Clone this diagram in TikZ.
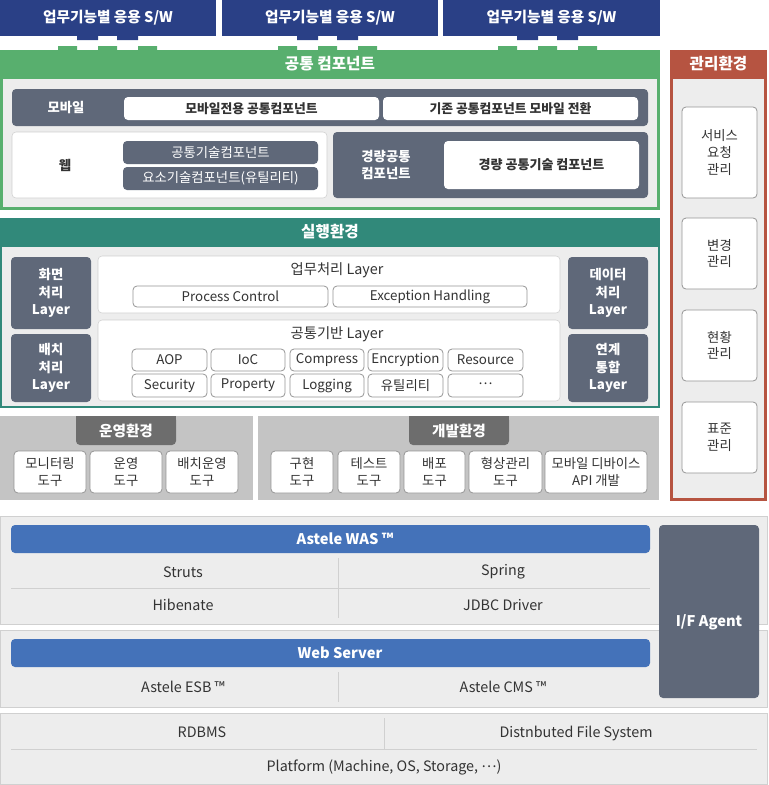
\documentclass[tikz,border=0pt]{standalone}
\usepackage{fontspec}
\setmainfont{Noto Sans CJK KR}
\usepackage{xcolor}

\definecolor{appblue}{RGB}{42,64,134}
\definecolor{compgreen}{RGB}{88,175,110}
\definecolor{runteal}{RGB}{49,137,122}
\definecolor{slate}{RGB}{95,104,121}
\definecolor{panelbg}{RGB}{237,237,237}
\definecolor{toolgray}{RGB}{196,196,196}
\definecolor{tabgray}{RGB}{109,109,109}
\definecolor{mgmtred}{RGB}{182,84,65}
\definecolor{wasblue}{RGB}{68,114,185}
\definecolor{linegray}{RGB}{208,208,208}
\definecolor{boxline}{RGB}{150,150,150}
\definecolor{ink}{RGB}{51,51,51}

\newcommand{\midots}{\raisebox{0.28em}{⋯}}

\tikzset{
  px/.style 2 args={minimum width=#1*0.75pt, minimum height=#2*0.75pt},
  base/.style={inner sep=0pt, outer sep=0pt, align=center, text=ink, font=\fontsize{10}{12.5}\selectfont},
  app/.style={base, fill=appblue, text=white, font=\bfseries\fontsize{11}{13}\selectfont},
  header/.style={base, text=white, font=\bfseries\fontsize{11.75}{14}\selectfont},
  darkbox/.style={base, fill=slate, text=white, rounded corners=3pt, font=\fontsize{10}{12}\selectfont},
  darkbold/.style={darkbox, font=\bfseries\fontsize{10}{13}\selectfont},
  darklabel/.style={base, text=white, font=\bfseries\fontsize{10}{13}\selectfont},
  plainbox/.style={base, fill=white, rounded corners=3pt, font=\bfseries\fontsize{9.6}{12}\selectfont},
  layerbox/.style={base, fill=white, draw=linegray, rounded corners=3pt},
  itembox/.style={base, fill=white, draw=boxline, line width=0.6pt, rounded corners=3pt},
  toolbox/.style={itembox, font=\fontsize{10}{12.5}\selectfont},
  tab/.style={base, fill=tabgray, text=white, rounded corners=3pt, font=\bfseries\fontsize{11}{13}\selectfont},
  stackbox/.style={base, fill=panelbg, draw=linegray},
  bar/.style={base, fill=wasblue, rounded corners=3pt},
  barlabel/.style={base, text=white, font=\bfseries\fontsize{11}{13}\selectfont},
  cell/.style={base, font=\fontsize{10.75}{13}\selectfont}
}

\begin{document}
\begin{tikzpicture}[x=0.75pt, y=-0.75pt]
  \useasboundingbox (0,0) rectangle (768,785);

  % applications
  \node [app, px={216}{36}] (A1) at (108,18) {업무기능별 응용 S/W};
  \node [app, px={216}{36}] (A2) at (330,18) {업무기능별 응용 S/W};
  \node [app, px={217}{36}] (A3) at (551.5,18) {업무기능별 응용 S/W};
  \fill [appblue] (77,36) rectangle (98,40) (117,36) rectangle (138,40);
  \fill [appblue] (297,36) rectangle (318,40) (337,36) rectangle (358,40);
  \fill [appblue] (517,36) rectangle (538,40) (557,36) rectangle (578,40);
  \fill [compgreen] (58,46) rectangle (77,50) (98,46) rectangle (117,50) (138,46) rectangle (157,50);
  \fill [compgreen] (278,46) rectangle (297,50) (318,46) rectangle (337,50) (358,46) rectangle (377,50);
  \fill [compgreen] (498,46) rectangle (517,50) (538,46) rectangle (557,50) (578,46) rectangle (597,50);

  % common components
  \node [base, fill=compgreen, px={660}{160}] (C) at (330,130) {};
  \node [base, fill=panelbg, px={654}{128}] (Cin) at (330,143) {};
  \node [header] (CT) at (330,64) {공통 컴포넌트};
  \node [darkbox, px={636}{37}] (M) at (330,107.5) {};
  \node [darklabel] (ML) at (66,107.5) {모바일};
  \node [plainbox, px={255}{23}] (M1) at (251.5,108.5) {모바일전용 공통컴포넌트};
  \node [plainbox, px={255}{23}] (M2) at (510.5,108.5) {기존 공통컴포넌트 모바일 전환};
  \node [layerbox, px={315}{66}] (W) at (169.5,165) {};
  \node [base, font=\bfseries\fontsize{10}{12}\selectfont] (WL) at (65,165) {웹};
  \node [darkbox, px={195}{23}] (W1) at (220.5,152.5) {공통기술컴포넌트};
  \node [darkbox, px={195}{23}] (W2) at (220.5,178.5) {요소기술컴포넌트(유틸리티)};
  \node [darkbox, px={315}{66}] (L) at (490.5,165) {};
  \node [darklabel] (LL) at (386,165) {경량공통\\컴포넌트};
  \node [plainbox, px={195}{48}, font=\bfseries\fontsize{9.75}{12}\selectfont] (L1) at (541.5,165) {경량 공통기술 컴포넌트};

  % runtime
  \node [base, fill=runteal, px={660}{190}] (R) at (330,313) {};
  \node [base, fill=panelbg, px={656}{159}] (Rin) at (330,326.5) {};
  \node [header] (RT) at (330,232) {실행환경};
  \node [darkbold, px={80}{72}] (R1) at (51,293) {화면\\처리\\Layer};
  \node [darkbold, px={80}{68}] (R2) at (51,368) {배치\\처리\\Layer};
  \node [darkbold, px={80}{72}] (R3) at (608,293) {데이터\\처리\\Layer};
  \node [darkbold, px={80}{68}] (R4) at (608,368) {연계\\통합\\Layer};
  \node [layerbox, px={462}{57}] (BZ) at (329,284.5) {};
  \node [cell] (BZT) at (337,270) {업무처리 Layer};
  \node [itembox, px={195}{21}] (P1) at (230.5,296.5) {Process Control};
  \node [itembox, px={194}{21}] (P2) at (430,296.5) {Exception Handling};
  \node [layerbox, px={462}{81}] (CB) at (329,360.5) {};
  \node [cell] (CBT) at (337,334) {공통기반 Layer};
  \node [itembox, px={75}{22}] (B1) at (169.5,360) {AOP};
  \node [itembox, px={74}{22}] (B2) at (248,360) {IoC};
  \node [itembox, px={74}{22}] (B3) at (327,360) {Compress};
  \node [itembox, px={75}{22}] (B4) at (405.5,360) {Encryption};
  \node [itembox, px={75}{22}] (B5) at (485.5,360) {Resource};
  \node [itembox, px={75}{23}] (B6) at (169.5,385.5) {Security};
  \node [itembox, px={74}{23}] (B7) at (248,385.5) {Property};
  \node [itembox, px={74}{23}] (B8) at (327,385.5) {Logging};
  \node [itembox, px={75}{23}] (B9) at (405.5,385.5) {유틸리티};
  \node [itembox, px={75}{23}] (B10) at (485.5,385.5) {\midots};

  % operation tools
  \node [base, fill=toolgray, px={253}{84}] (O) at (126.5,458) {};
  \fill [tabgray] (76,416) rectangle (176,430);
  \node [tab, px={100}{29}] (OT) at (126,430.5) {운영환경};
  \node [toolbox, px={72}{42}] (O1) at (50,472) {모니터링\\도구};
  \node [toolbox, px={72}{42}] (O2) at (126,472) {운영\\도구};
  \node [toolbox, px={72}{42}] (O3) at (202,472) {배치운영\\도구};

  % development tools
  \node [base, fill=toolgray, px={401}{84}] (D) at (458.5,458) {};
  \fill [tabgray] (409,416) rectangle (509,430);
  \node [tab, px={100}{29}] (DT) at (459,430.5) {개발환경};
  \node [toolbox, px={62}{42}] (D1) at (302,472) {구현\\도구};
  \node [toolbox, px={62}{42}] (D2) at (369,472) {테스트\\도구};
  \node [toolbox, px={61}{42}] (D3) at (434.5,472) {배포\\도구};
  \node [toolbox, px={73}{42}] (D4) at (505.5,472) {형상관리\\도구};
  \node [toolbox, px={102}{42}] (D5) at (596,472) {모바일 디바이스\\API 개발};

  % management
  \node [base, fill=mgmtred, px={97}{451}] (G) at (718.5,275.5) {};
  \node [base, fill=panelbg, px={91}{419}] (Gin) at (718.5,288.5) {};
  \node [header] (GT) at (718.5,64) {관리환경};
  \node [toolbox, px={75}{91}] (G1) at (719.5,152.5) {서비스\\요청\\관리};
  \node [toolbox, px={75}{71}] (G2) at (719.5,253.5) {변경\\관리};
  \node [toolbox, px={75}{71}] (G3) at (719.5,345.5) {현황\\관리};
  \node [toolbox, px={75}{71}] (G4) at (719.5,437.5) {표준\\관리};

  % was
  \node [stackbox, px={767}{108}] (WA) at (383.5,570) {};
  \node [bar, px={639}{28}] (WAB) at (330.5,539) {};
  \node [barlabel] (WABL) at (345,539) {Astele WAS ™};
  \draw [linegray] (11,588) -- (650,588);
  \draw [linegray] (338,558) -- (338,618);
  \node [cell] (WA1) at (183,572) {Struts};
  \node [cell] (WA2) at (503,572) {Spring};
  \node [cell] (WA3) at (183,605) {Hibenate};
  \node [cell] (WA4) at (503,605) {JDBC Driver};

  % web server
  \node [stackbox, px={767}{77}] (WS) at (383.5,668.5) {};
  \node [bar, px={639}{28}] (WSB) at (330.5,653) {};
  \node [barlabel] (WSBL) at (340,653) {Web Server};
  \draw [linegray] (338,672) -- (338,702);
  \node [cell] (WS1) at (183,687) {Astele ESB ™};
  \node [cell] (WS2) at (503,687) {Astele CMS ™};

  \node [darkbox, px={100}{173}] (IF) at (709,611.5) {};
  \node [barlabel] (IFL) at (709,622) {I/F Agent};

  % platform
  \node [stackbox, px={767}{71}] (PF) at (383.5,748.5) {};
  \draw [linegray] (384,718) -- (384,749);
  \draw [linegray] (11,749) -- (757,749);
  \node [cell] (PF1) at (202,732) {RDBMS};
  \node [cell] (PF2) at (576,733) {Distnbuted File System};
  \node [cell] (PF3) at (384,767) {Platform (Machine, OS, Storage, \midots)};

\end{tikzpicture}
\end{document}
